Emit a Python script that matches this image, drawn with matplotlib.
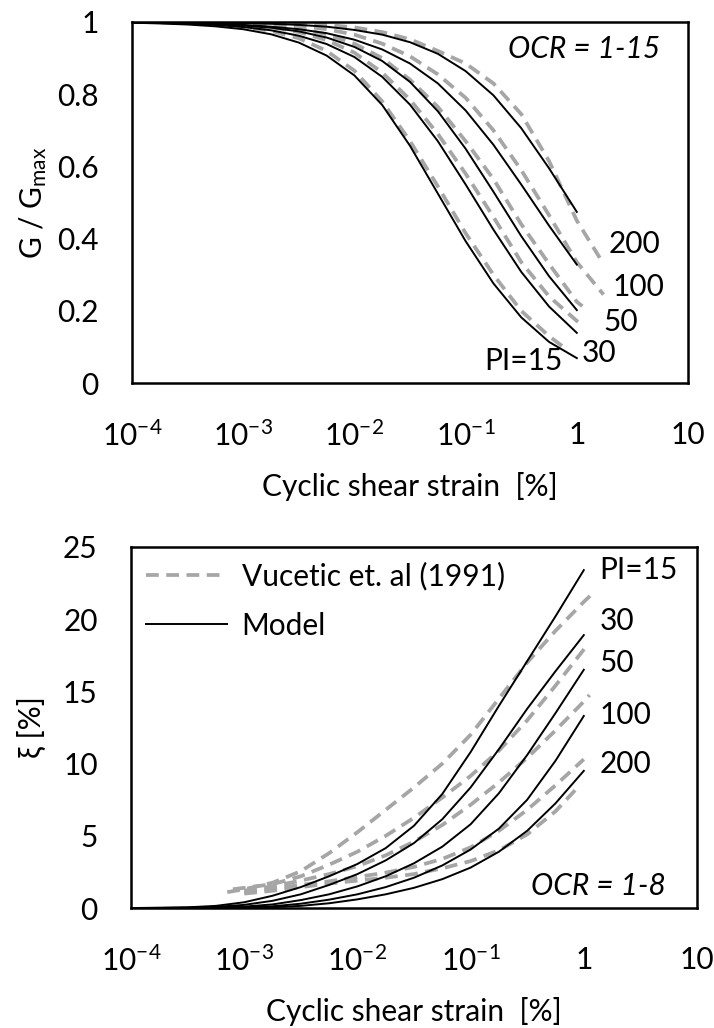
import matplotlib
matplotlib.use("Agg")
import matplotlib.pyplot as plt
import numpy as np

plt.rcParams["font.family"] = ["Lato", "DejaVu Sans"]
plt.rcParams["mathtext.fontset"] = "custom"
plt.rcParams["mathtext.rm"] = "Lato"
plt.rcParams["mathtext.it"] = "Lato:italic"
FS = 21.5
plt.rcParams["font.size"] = FS

# ---- data (log10 of cyclic shear strain in %) ----
PI_LABELS = ["PI=15", "30", "50", "100", "200"]

MODEL_LOG_STRAIN = [-4.0, -3.75, -3.5, -3.25, -3.0, -2.75, -2.5, -2.25, -2.0,
                    -1.75, -1.5, -1.25, -1.0, -0.75, -0.5, -0.25, 0.0]

# G/Gmax, model
GG_MODEL_PI15 = [0.998, 0.996, 0.993, 0.988, 0.980, 0.966, 0.943, 0.907, 0.852,
                 0.770, 0.657, 0.525, 0.393, 0.276, 0.182, 0.114, 0.069]
GG_MODEL_PI30 = [0.998, 0.997, 0.995, 0.992, 0.986, 0.977, 0.962, 0.939, 0.903,
                 0.848, 0.771, 0.670, 0.550, 0.425, 0.308, 0.212, 0.139]
GG_MODEL_PI50 = [0.999, 0.998, 0.996, 0.994, 0.990, 0.984, 0.974, 0.957, 0.931,
                 0.892, 0.834, 0.753, 0.649, 0.530, 0.407, 0.296, 0.202]
GG_MODEL_PI100 = [0.999, 0.998, 0.997, 0.995, 0.992, 0.987, 0.980, 0.969, 0.951,
                  0.924, 0.885, 0.830, 0.755, 0.660, 0.550, 0.436, 0.328]
GG_MODEL_PI200 = [1.000, 0.999, 0.999, 0.998, 0.997, 0.995, 0.992, 0.987, 0.978,
                  0.965, 0.944, 0.912, 0.864, 0.797, 0.706, 0.595, 0.474]

# G/Gmax, Vucetic et al. (1991)
GG_VUC_LOG_STRAIN_PI15 = [-4.0, -3.75, -3.5, -3.25, -3.0, -2.75, -2.5, -2.25, -2.0,
                          -1.75, -1.5, -1.25, -1.0, -0.75, -0.5, -0.25, -0.1]
GG_VUC_PI15 = [1.0, 1.0, 0.998, 0.995, 0.988, 0.975, 0.955, 0.92, 0.865,
               0.78, 0.67, 0.545, 0.415, 0.30, 0.20, 0.13, 0.095]
GG_VUC_LOG_STRAIN_PI30 = [-4.0, -3.75, -3.5, -3.25, -3.0, -2.75, -2.5, -2.25, -2.0,
                          -1.75, -1.5, -1.25, -1.0, -0.75, -0.5, -0.25, 0.0, 0.03]
GG_VUC_PI30 = [1.0, 1.0, 1.0, 0.998, 0.994, 0.986, 0.972, 0.95, 0.915,
               0.86, 0.785, 0.69, 0.58, 0.46, 0.335, 0.24, 0.172, 0.165]
GG_VUC_LOG_STRAIN_PI50 = [-4.0, -3.75, -3.5, -3.25, -3.0, -2.75, -2.5, -2.25, -2.0,
                          -1.75, -1.5, -1.25, -1.0, -0.75, -0.5, -0.25, 0.0, 0.05]
GG_VUC_PI50 = [1.0, 1.0, 1.0, 0.999, 0.997, 0.992, 0.982, 0.966, 0.94,
               0.90, 0.84, 0.765, 0.67, 0.565, 0.44, 0.33, 0.225, 0.213]
GG_VUC_LOG_STRAIN_PI100 = [-4.0, -3.75, -3.5, -3.25, -3.0, -2.75, -2.5, -2.25, -2.0,
                           -1.75, -1.5, -1.25, -1.0, -0.75, -0.5, -0.25, 0.0, 0.24]
GG_VUC_PI100 = [1.0, 1.0, 1.0, 1.0, 0.999, 0.996, 0.99, 0.98, 0.965,
                0.94, 0.905, 0.855, 0.79, 0.70, 0.59, 0.465, 0.335, 0.245]
GG_VUC_LOG_STRAIN_PI200 = [-4.0, -3.75, -3.5, -3.25, -3.0, -2.75, -2.5, -2.25, -2.0,
                           -1.75, -1.5, -1.25, -1.0, -0.75, -0.5, -0.25, 0.0, 0.24]
GG_VUC_PI200 = [1.0, 1.0, 1.0, 1.0, 1.0, 0.999, 0.996, 0.992, 0.985,
                0.972, 0.952, 0.92, 0.885, 0.83, 0.745, 0.615, 0.45, 0.33]

# damping ratio [%], model
XI_MODEL_PI15 = [0.0, 0.02, 0.05, 0.15, 0.4, 0.85, 1.45, 2.2, 3.05,
                 4.15, 5.7, 7.9, 10.8, 14.0, 17.1, 20.2, 23.4]
XI_MODEL_PI30 = [0.0, 0.01, 0.03, 0.08, 0.22, 0.5, 0.95, 1.6, 2.35,
                 3.3, 4.5, 6.15, 8.35, 11.0, 13.8, 16.4, 18.9]
XI_MODEL_PI50 = [0.0, 0.0, 0.01, 0.04, 0.1, 0.25, 0.55, 0.95, 1.5,
                 2.2, 3.1, 4.25, 5.8, 7.95, 10.6, 13.5, 16.5]
XI_MODEL_PI100 = [0.0, 0.0, 0.0, 0.02, 0.05, 0.12, 0.3, 0.58, 0.95,
                  1.45, 2.1, 2.95, 4.05, 5.5, 7.5, 10.2, 13.3]
XI_MODEL_PI200 = [0.0, 0.0, 0.0, 0.01, 0.02, 0.06, 0.15, 0.33, 0.6,
                  0.95, 1.4, 2.0, 2.8, 3.9, 5.35, 7.25, 9.5]

# damping ratio [%], Vucetic et al. (1991)
XI_VUC_LOG_STRAIN_PI15 = [-3.15, -3.0, -2.75, -2.5, -2.25, -2.0, -1.75, -1.5,
                          -1.25, -1.0, -0.75, -0.5, -0.25, 0.0, 0.08]
XI_VUC_PI15 = [1.1, 1.3, 1.75, 2.55, 3.8, 5.25, 6.8, 8.35,
               10.0, 12.0, 14.5, 17.0, 19.2, 21.2, 21.8]
XI_VUC_LOG_STRAIN_PI30 = [-3.1, -2.75, -2.5, -2.25, -2.0, -1.75, -1.5,
                          -1.25, -1.0, -0.75, -0.5, -0.25, 0.0, 0.03]
XI_VUC_PI30 = [1.3, 1.65, 2.2, 3.0, 3.9, 5.0, 6.25,
               7.65, 9.15, 10.9, 13.0, 15.4, 17.9, 18.2]
XI_VUC_LOG_STRAIN_PI50 = [-3.0, -2.75, -2.5, -2.25, -2.0, -1.75, -1.5,
                          -1.25, -1.0, -0.75, -0.5, -0.25, 0.0, 0.05]
XI_VUC_PI50 = [1.2, 1.5, 1.9, 2.35, 2.9, 3.65, 4.6,
               5.75, 7.15, 8.7, 10.4, 12.3, 14.3, 14.75]
XI_VUC_LOG_STRAIN_PI100 = [-3.0, -2.75, -2.5, -2.25, -2.0, -1.75, -1.5,
                           -1.25, -1.0, -0.75, -0.5, -0.25, 0.0]
XI_VUC_PI100 = [1.1, 1.35, 1.6, 1.85, 2.15, 2.45, 2.85,
                3.4, 4.2, 5.35, 6.8, 8.5, 10.3]
XI_VUC_LOG_STRAIN_PI200 = [-3.0, -2.75, -2.5, -2.25, -2.0, -1.75, -1.5,
                           -1.25, -1.0, -0.75, -0.5, -0.25, -0.06]
XI_VUC_PI200 = [1.0, 1.2, 1.45, 1.7, 1.9, 2.1, 2.35,
                2.75, 3.25, 4.0, 5.1, 6.7, 8.3]

# PI label anchors (log10 strain, value)
GG_LABEL_LOG_X = [-0.83, 0.045, 0.24, 0.32, 0.29]
GG_LABEL_Y = [0.06, 0.083, 0.17, 0.266, 0.385]
XI_LABEL_LOG_X = [0.136, 0.136, 0.136, 0.136, 0.136]
XI_LABEL_Y = [23.4, 19.9, 17.0, 13.4, 10.0]

X_TICKS = [1e-4, 1e-3, 1e-2, 1e-1, 1, 10]
X_TICK_LABELS = ["10$^{-4}$", "10$^{-3}$", "10$^{-2}$", "10$^{-1}$", "1", "10"]

GRAY = "#a6a6a6"
DASH_KW = dict(color=GRAY, lw=2.7, dashes=(3.4, 2.0))
SOLID_KW = dict(color="black", lw=1.4)


def style_axes(ax):
    ax.set_xscale("log")
    ax.set_xlim(1e-4, 10)
    ax.set_xticks(X_TICKS)
    ax.set_xticklabels(X_TICK_LABELS)
    ax.minorticks_off()
    ax.tick_params(axis="x", length=0, pad=27, labelsize=FS)
    ax.tick_params(axis="y", length=0, pad=24, labelsize=FS)
    for sp in ax.spines.values():
        sp.set_linewidth(1.8)
    ax.set_xlabel("Cyclic shear strain  [%]", fontsize=FS, labelpad=15)


fig = plt.figure(figsize=(7.14, 10.28), dpi=100)
ax1 = fig.add_axes([0.1849, 0.6274, 0.7787, 0.3512])
ax2 = fig.add_axes([0.1835, 0.1167, 0.7927, 0.3512])

# ---- top: G/Gmax ----
model_x = 10 ** np.array(MODEL_LOG_STRAIN)
gg_vuc = [(GG_VUC_LOG_STRAIN_PI15, GG_VUC_PI15), (GG_VUC_LOG_STRAIN_PI30, GG_VUC_PI30),
          (GG_VUC_LOG_STRAIN_PI50, GG_VUC_PI50), (GG_VUC_LOG_STRAIN_PI100, GG_VUC_PI100),
          (GG_VUC_LOG_STRAIN_PI200, GG_VUC_PI200)]
for lx, g in gg_vuc:
    ax1.plot(10 ** np.array(lx), g, **DASH_KW)
for g in [GG_MODEL_PI15, GG_MODEL_PI30, GG_MODEL_PI50, GG_MODEL_PI100, GG_MODEL_PI200]:
    ax1.plot(model_x, g, **SOLID_KW)
for lab, lx, y in zip(PI_LABELS, GG_LABEL_LOG_X, GG_LABEL_Y):
    ax1.text(10 ** lx, y, lab, ha="left", va="center", fontsize=FS)
ax1.text(0.95, 0.925, "OCR = 1-15", transform=ax1.transAxes, ha="right",
         va="center", fontsize=FS, style="italic")
style_axes(ax1)
ax1.set_ylim(0, 1)
ax1.set_yticks([0, 0.2, 0.4, 0.6, 0.8, 1])
ax1.set_yticklabels(["0", "0.2", "0.4", "0.6", "0.8", "1"])
ax1.set_ylabel("G / G$_{\\mathrm{max}}$", fontsize=FS, labelpad=6)

# ---- bottom: damping ----
xi_vuc = [(XI_VUC_LOG_STRAIN_PI15, XI_VUC_PI15), (XI_VUC_LOG_STRAIN_PI30, XI_VUC_PI30),
          (XI_VUC_LOG_STRAIN_PI50, XI_VUC_PI50), (XI_VUC_LOG_STRAIN_PI100, XI_VUC_PI100),
          (XI_VUC_LOG_STRAIN_PI200, XI_VUC_PI200)]
for i, (lx, xi) in enumerate(xi_vuc):
    ax2.plot(10 ** np.array(lx), xi, label="Vucetic et. al (1991)" if i == 0 else None,
             **DASH_KW)
for i, xi in enumerate([XI_MODEL_PI15, XI_MODEL_PI30, XI_MODEL_PI50,
                        XI_MODEL_PI100, XI_MODEL_PI200]):
    ax2.plot(model_x, xi, label="Model" if i == 0 else None, **SOLID_KW)
for lab, lx, y in zip(PI_LABELS, XI_LABEL_LOG_X, XI_LABEL_Y):
    ax2.text(10 ** lx, y, lab, ha="left", va="center", fontsize=FS)
ax2.text(0.945, 0.06, "OCR = 1-8", transform=ax2.transAxes, ha="right",
         va="center", fontsize=FS, style="italic")
style_axes(ax2)
ax2.set_ylim(0, 25)
ax2.set_yticks([0, 5, 10, 15, 20, 25])
ax2.set_ylabel("ξ [%]", fontsize=FS, labelpad=12)
ax2.legend(loc="upper left", bbox_to_anchor=(0.0, 1.0), frameon=False,
           handlelength=2.7, handletextpad=0.5, labelspacing=0.7,
           borderpad=0.0, borderaxespad=0.5, fontsize=FS)

fig.savefig("out.png", dpi=100)
